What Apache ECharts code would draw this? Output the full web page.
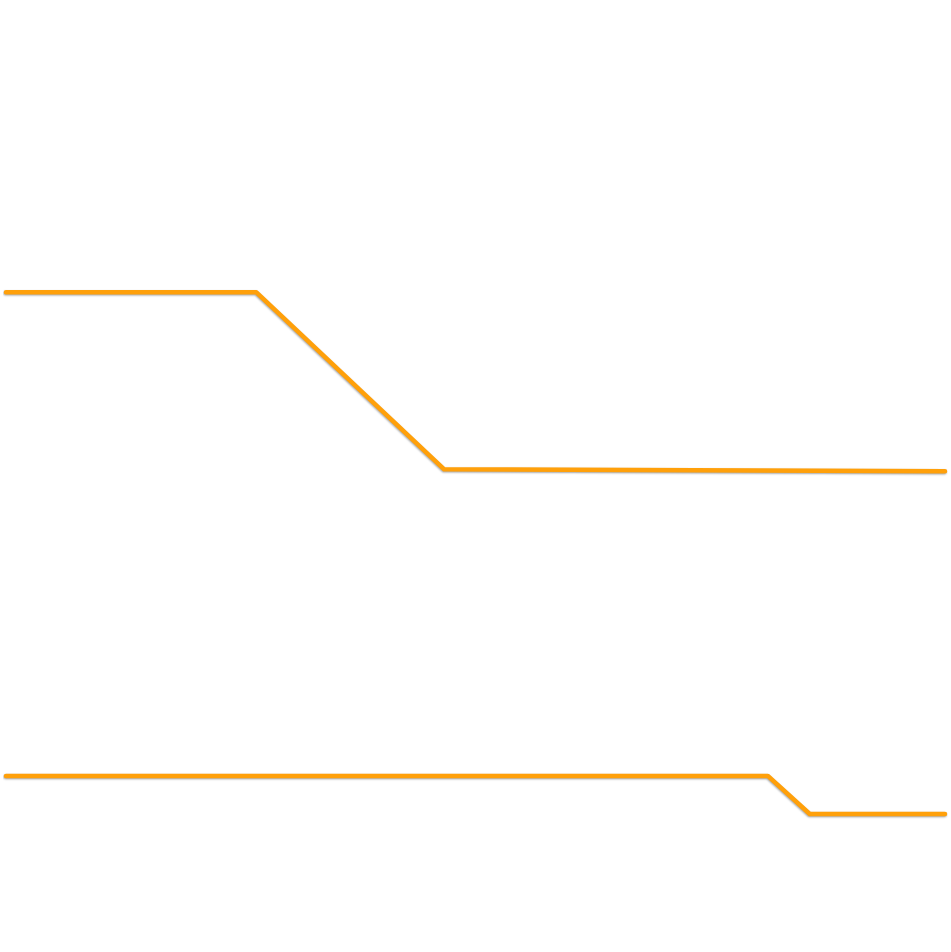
<!DOCTYPE html>
<html>
<head>
<meta charset="utf-8">
<script src="https://cdn.jsdelivr.net/npm/echarts@6/dist/echarts.min.js"></script>
<style>html,body{margin:0;padding:0;background:#fff;}#c{width:951px;height:952px;}</style>
</head>
<body>
<div id="c"></div>
<script>
// Upper series: x positions and values
const upperX = [0, 1, 2, 3, 4, 5, 6, 7, 8, 9, 10, 11, 12, 13, 14, 15];
const upperY = [69.3, 69.3, 69.3, 69.3, 69.3, 63.1, 56.9, 50.7, 50.68, 50.66, 50.63, 50.61, 50.59, 50.56, 50.53, 50.5];
// Lower series: x positions and values
const lowerX = [0, 12.17, 12.84, 15];
const lowerY = [18.5, 18.5, 14.5, 14.5];

const chart = echarts.init(document.getElementById('c'), null, {renderer: 'canvas'});
const lineStyle = {
  color: '#ffa00a', width: 4.5, cap: 'round', join: 'round',
  shadowColor: 'rgba(0,0,0,0.35)', shadowBlur: 2, shadowOffsetX: -0.5, shadowOffsetY: 1
};
chart.setOption({
  animation: false,
  backgroundColor: '#ffffff',
  grid: {left: 6, right: 6, top: 0, bottom: 0},
  xAxis: {type: 'value', min: 0, max: 15, show: false},
  yAxis: {type: 'value', min: 0, max: 100, show: false},
  series: [
    {type: 'line', showSymbol: false, lineStyle: lineStyle, itemStyle: {color: '#ffa00a'},
     data: upperX.map((x, i) => [x, upperY[i]])},
    {type: 'line', showSymbol: false, lineStyle: lineStyle, itemStyle: {color: '#ffa00a'},
     data: lowerX.map((x, i) => [x, lowerY[i]])}
  ]
});
</script>
</body>
</html>
